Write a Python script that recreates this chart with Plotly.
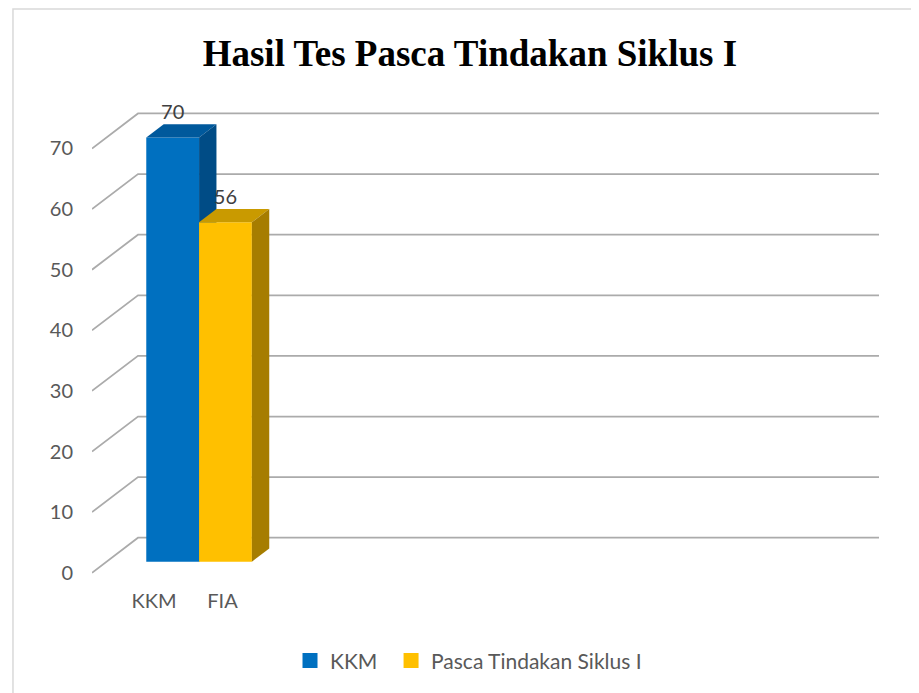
import plotly.graph_objects as go

# ---- data ----
categories = ["KKM" + "\u00a0" * 6 + "FIA", "", "", ""]
series_names = ["KKM", "Pasca Tindakan Siklus I"]
kkm_values = [70]
pasca_values = [56]
y_ticks = [0, 10, 20, 30, 40, 50, 60, 70]

# ---- style / 3D geometry ----
DX, DY = 0.2483, 5.776      # depth offset of back wall (x units, y units)
F0, F1 = 0.314, 0.692       # bar front/back depth fractions
BW = 0.285                  # bar width per series
FONT = "Lato"
colors = {
    "KKM": ("#0070C0", "#00599C", "#004C86"),
    "Pasca Tindakan Siklus I": ("#FFC000", "#C99A00", "#A67D00"),
}

fig = go.Figure()

# gridlines (diagonal side wall + back wall)
x_left, x_right = -0.5, len(categories) - 0.5
for v in y_ticks:
    fig.add_trace(go.Scatter(
        x=[x_left, x_left + DX, x_right + DX], y=[v, v + DY, v + DY],
        mode="lines", line=dict(color="#ABABAB", width=1.75),
        hoverinfo="skip", showlegend=False))

label_x, label_y, label_t = [], [], []
for si, (name, vals) in enumerate(zip(series_names, [kkm_values, pasca_values])):
    front_c, top_c, side_c = colors[name]
    for ci, v in enumerate(vals):
        L = ci - BW + si * BW
        R = L + BW
        faces = [
            ([L + F0 * DX, R + F0 * DX, R + F0 * DX, L + F0 * DX],
             [F0 * DY, F0 * DY, v + F0 * DY, v + F0 * DY], front_c),
            ([L + F0 * DX, R + F0 * DX, R + F1 * DX, L + F1 * DX],
             [v + F0 * DY, v + F0 * DY, v + F1 * DY, v + F1 * DY], top_c),
            ([R + F0 * DX, R + F1 * DX, R + F1 * DX, R + F0 * DX],
             [F0 * DY, F1 * DY, v + F1 * DY, v + F0 * DY], side_c),
        ]
        for xs, ys, c in faces:
            fig.add_trace(go.Scatter(
                x=xs + [xs[0]], y=ys + [ys[0]], mode="lines", fill="toself",
                fillcolor=c, line=dict(width=0, color=c),
                hoverinfo="skip", showlegend=False))
        label_x.append((L + R) / 2 + F0 * DX)
        label_y.append(v + F1 * DY + 1.7)
        label_t.append(str(v))

fig.add_trace(go.Scatter(
    x=label_x, y=label_y, text=label_t, mode="text",
    textfont=dict(family=FONT, size=20, color="#404040"),
    textposition="middle center", hoverinfo="skip", showlegend=False))

# legend entries (one legend box each, to match spacing)
for name, lg in zip(series_names, ["legend", "legend2"]):
    fig.add_trace(go.Scatter(
        x=[None], y=[None], mode="markers", name=name, legend=lg,
        marker=dict(symbol="square", size=15, color=colors[name][0])))

legend_common = dict(orientation="h", xanchor="left", y=-0.157, yanchor="middle",
                     font=dict(family=FONT, size=21, color="#595959"),
                     itemclick=False, bgcolor="rgba(0,0,0,0)")

fig.update_layout(
    width=911, height=685,
    margin=dict(l=84, r=40, t=72, b=111),
    paper_bgcolor="white", plot_bgcolor="white",
    title=dict(text="<b>Hasil Tes Pasca Tindakan Siklus I</b>",
               font=dict(family="Liberation Serif", size=37, color="black"),
               x=0.507, xanchor="center", y=0.9343, yanchor="middle"),
    xaxis=dict(range=[x_left, x_right + DX], tickvals=list(range(len(categories))),
               ticktext=categories, showgrid=False, zeroline=False, showline=False,
               ticks="", ticklabelstandoff=5,
               tickfont=dict(family=FONT, size=20, color="#595959")),
    yaxis=dict(range=[-1.53, 81.3], tickvals=y_ticks, showgrid=False,
               zeroline=False, showline=False, ticks="", ticklabelstandoff=18,
               tickfont=dict(family=FONT, size=20, color="#595959")),
    showlegend=True,
    legend=dict(x=0.2516, **legend_common),
    legend2=dict(x=0.3800, **legend_common),
    shapes=[dict(type="rect", xref="paper", yref="paper",
                 x0=-0.1004, x1=1.2, y0=-0.4, y1=1.1414,
                 line=dict(color="#D9D9D9", width=1.5), fillcolor="rgba(0,0,0,0)")],
)

fig.write_html("out.html")
